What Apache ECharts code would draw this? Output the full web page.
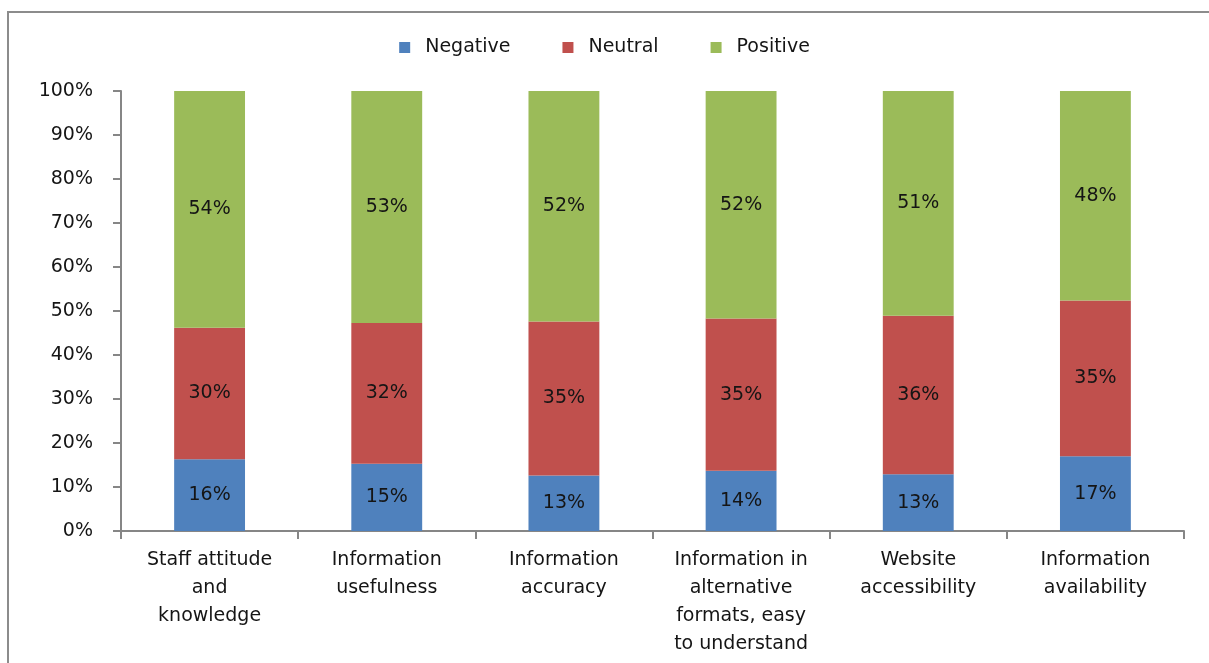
<!DOCTYPE html>
<html>
<head>
<meta charset="utf-8">
<script src="https://cdn.jsdelivr.net/npm/echarts@6/dist/echarts.min.js"></script>
<style>
html,body{margin:0;padding:0;background:#fff;}
#chart{width:1209px;height:663px;}
</style>
</head>
<body>
<div id="chart"></div>
<script>
const categories = [
  'Staff attitude\nand\nknowledge',
  'Information\nusefulness',
  'Information\naccuracy',
  'Information in\nalternative\nformats, easy\nto understand',
  'Website\naccessibility',
  'Information\navailability'
];
const negative = [16.3, 15.3, 12.6, 13.7, 12.9, 17.0];
const neutral  = [29.9, 32.0, 35.0, 34.6, 36.0, 35.4];
const positive = [53.8, 52.7, 52.4, 51.7, 51.1, 47.6];
const yTicks = [0, 10, 20, 30, 40, 50, 60, 70, 80, 90, 100];

const FONT = 'DejaVu Sans';
const TXT = '#151515';
const AXIS = '#868686';

const chart = echarts.init(document.getElementById('chart'), null, {renderer: 'canvas'});

function seriesOf(name, data, color) {
  return {
    name: name,
    type: 'bar',
    stack: 'total',
    data: data,
    barWidth: '40%',
    itemStyle: {color: color},
    label: {
      show: true,
      position: 'inside',
      fontFamily: FONT,
      fontSize: 19,
      color: TXT,
      formatter: p => Math.round(p.value) + '%'
    },
    emphasis: {disabled: true}
  };
}

chart.setOption({
  animation: false,
  backgroundColor: '#fff',
  graphic: [{
    type: 'rect',
    shape: {x: 8, y: 12, width: 1400, height: 800},
    style: {fill: 'none', stroke: '#8c8c8c', lineWidth: 2},
    silent: true,
    z: 0
  }],
  legend: {
    top: 33,
    left: 'center',
    itemWidth: 11,
    itemHeight: 11,
    itemGap: 52,
    icon: 'rect',
    textStyle: {fontFamily: FONT, fontSize: 19, color: TXT, padding: [0, 0, 0, 10]},
    data: ['Negative', 'Neutral', 'Positive']
  },
  grid: {left: 121, right: 25, top: 91, bottom: 132, containLabel: false},
  xAxis: {
    type: 'category',
    data: categories,
    axisLine: {lineStyle: {color: AXIS, width: 2}},
    axisTick: {show: true, length: 8, alignWithLabel: false, lineStyle: {color: AXIS, width: 2}},
    axisLabel: {
      interval: 0,
      margin: 15,
      fontFamily: FONT,
      fontSize: 19,
      lineHeight: 28,
      color: TXT,
      align: 'center'
    }
  },
  yAxis: {
    type: 'value',
    min: 0,
    max: 100,
    interval: 10,
    axisLine: {show: true, lineStyle: {color: AXIS, width: 2}},
    axisTick: {show: true, length: 8, lineStyle: {color: AXIS, width: 2}},
    splitLine: {show: false},
    axisLabel: {
      margin: 28,
      fontFamily: FONT,
      fontSize: 19,
      color: TXT,
      formatter: v => (yTicks.indexOf(v) >= 0 ? v + '%' : '')
    }
  },
  series: [
    seriesOf('Negative', negative, '#4F81BD'),
    seriesOf('Neutral', neutral, '#C0504D'),
    seriesOf('Positive', positive, '#9BBB59')
  ]
});
</script>
</body>
</html>
